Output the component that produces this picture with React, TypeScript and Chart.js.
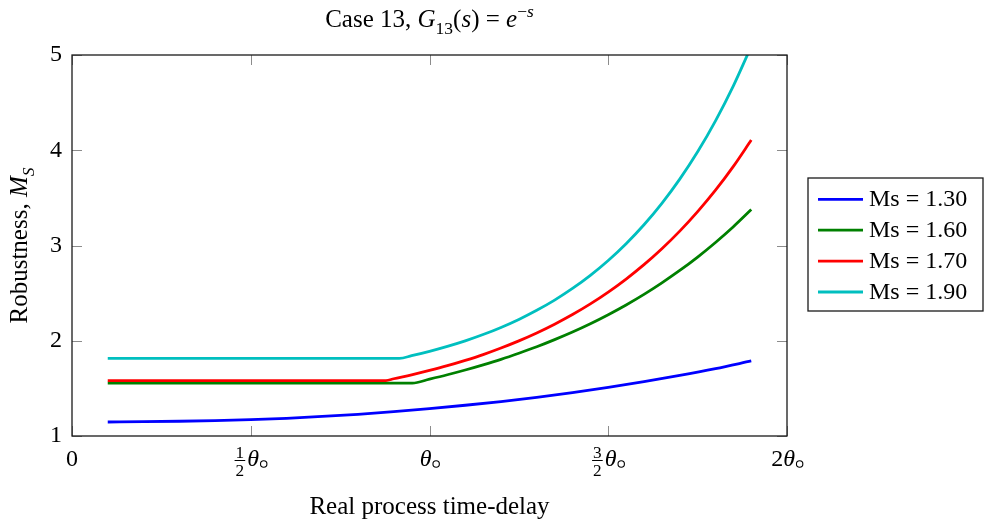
import React, { useEffect, useRef } from 'react';
import { Chart, registerables } from 'chart.js';

Chart.register(...registerables);

const FONT = '"Liberation Serif", "Times New Roman", Times, serif';

// ---- data ----
const seriesLabels = ['Ms = 1.30', 'Ms = 1.60', 'Ms = 1.70', 'Ms = 1.90'];
const seriesColors = ['#0000ff', '#008000', '#ff0000', '#00bfbf'];

const ms130X = [0.1, 0.2, 0.3, 0.4, 0.5, 0.6, 0.7, 0.8, 0.9, 1.0, 1.1, 1.2, 1.3, 1.4, 1.5, 1.6, 1.7, 1.8, 1.9];
const ms130Y = [1.147, 1.15, 1.155, 1.162, 1.172, 1.186, 1.205, 1.228, 1.256, 1.288, 1.323, 1.362, 1.406, 1.455, 1.51, 1.57, 1.636, 1.708, 1.788];

const ms160X = [0.1, 0.952, 1.0, 1.05, 1.1, 1.15, 1.2, 1.25, 1.3, 1.35, 1.4, 1.45, 1.5, 1.55, 1.6, 1.65, 1.7, 1.75, 1.8, 1.85, 1.9];
const ms160Y = [1.555, 1.555, 1.597, 1.643, 1.693, 1.747, 1.805, 1.869, 1.937, 2.012, 2.092, 2.179, 2.274, 2.376, 2.487, 2.608, 2.738, 2.879, 3.032, 3.197, 3.377];

const ms170X = [0.1, 0.878, 0.9, 0.95, 1.0, 1.05, 1.1, 1.15, 1.2, 1.25, 1.3, 1.35, 1.4, 1.45, 1.5, 1.55, 1.6, 1.65, 1.7, 1.75, 1.8, 1.85, 1.9];
const ms170Y = [1.582, 1.582, 1.601, 1.642, 1.688, 1.738, 1.794, 1.855, 1.924, 1.999, 2.082, 2.174, 2.275, 2.387, 2.511, 2.648, 2.799, 2.966, 3.151, 3.356, 3.581, 3.831, 4.107];

const ms190X = [0.1, 0.916, 0.95, 1.0, 1.05, 1.1, 1.15, 1.2, 1.25, 1.3, 1.35, 1.4, 1.45, 1.5, 1.55, 1.6, 1.65, 1.7, 1.75, 1.8, 1.85, 1.9];
const ms190Y = [1.815, 1.815, 1.843, 1.889, 1.941, 1.999, 2.065, 2.14, 2.224, 2.32, 2.427, 2.549, 2.687, 2.843, 3.019, 3.218, 3.443, 3.697, 3.984, 4.309, 4.676, 5.091];

const yTickValues = [1, 2, 3, 4, 5];
const xTickValues = [0, 0.5, 1, 1.5, 2];
const xTickLabels = ['0', '1/2θ', 'θ', '3/2θ', '2θ'];

const xAxisTitle = 'Real process time-delay';
type Run = { t: string; italic?: boolean; scale?: number; dy?: number };
const chartTitleRuns: Run[] = [
  { t: 'Case 13, ' },
  { t: 'G', italic: true },
  { t: '13', scale: 0.7, dy: 0.28 },
  { t: '(' },
  { t: 's', italic: true },
  { t: ') = ' },
  { t: 'e', italic: true },
  { t: '−', scale: 0.7, dy: -0.42 },
  { t: 's', italic: true, scale: 0.7, dy: -0.42 },
];
const yAxisTitleRuns: Run[] = [
  { t: 'Robustness, ' },
  { t: 'M', italic: true },
  { t: 'S', italic: true, scale: 0.7, dy: 0.28 },
];

const seriesX = [ms130X, ms160X, ms170X, ms190X];
const seriesY = [ms130Y, ms160Y, ms170Y, ms190Y];

function font(size: number, italic?: boolean) {
  return `${italic ? 'italic ' : ''}${size}px ${FONT}`;
}

function runsWidth(ctx: CanvasRenderingContext2D, runs: Run[], size: number) {
  let w = 0;
  for (const r of runs) {
    ctx.font = font(size * (r.scale || 1), r.italic);
    w += ctx.measureText(r.t).width;
  }
  return w;
}

function drawRuns(ctx: CanvasRenderingContext2D, runs: Run[], cx: number, baseY: number, size: number) {
  const w = runsWidth(ctx, runs, size);
  let x = cx - w / 2;
  ctx.textAlign = 'left';
  ctx.textBaseline = 'alphabetic';
  for (const r of runs) {
    ctx.font = font(size * (r.scale || 1), r.italic);
    ctx.fillText(r.t, x, baseY + (r.dy || 0) * size);
    x += ctx.measureText(r.t).width;
  }
}

function drawXTickLabel(ctx: CanvasRenderingContext2D, label: string, cx: number, baseY: number, size: number) {
  const m = label.match(/^(?:(\d+)\/(\d+))?(\d+)?(θ)?$/);
  if (!m) return;
  const num = m[1];
  const den = m[2];
  const coef = m[3];
  const theta = !!m[4];
  const small = size * 0.72;
  let fracW = 0;
  if (num && den) {
    ctx.font = font(small);
    fracW = Math.max(ctx.measureText(num).width, ctx.measureText(den).width) + 2;
  }
  ctx.font = font(size);
  const coefW = coef ? ctx.measureText(coef).width : 0;
  ctx.font = font(size, true);
  const thetaW = theta ? ctx.measureText('θ').width : 0;
  const ringR = 3.2;
  const ringW = theta ? 1.5 + ringR * 2 : 0;
  const total = fracW + (fracW ? 2 : 0) + coefW + thetaW + ringW;
  let x = cx - total / 2;
  ctx.fillStyle = '#000';
  ctx.strokeStyle = '#000';
  ctx.textBaseline = 'alphabetic';
  if (fracW) {
    ctx.font = font(small);
    ctx.textAlign = 'center';
    ctx.fillText(num, x + fracW / 2, baseY - 8);
    ctx.fillText(den, x + fracW / 2, baseY + 10);
    ctx.lineWidth = 1;
    ctx.beginPath();
    ctx.moveTo(x, baseY - 5.5);
    ctx.lineTo(x + fracW, baseY - 5.5);
    ctx.stroke();
    x += fracW + 2;
  }
  ctx.textAlign = 'left';
  if (coef) {
    ctx.font = font(size);
    ctx.fillText(coef, x, baseY);
    x += coefW;
  }
  if (theta) {
    ctx.font = font(size, true);
    ctx.fillText('θ', x, baseY);
    x += thetaW + 1.5;
    ctx.lineWidth = 1.1;
    ctx.beginPath();
    ctx.arc(x + ringR, baseY - 2, ringR, 0, Math.PI * 2);
    ctx.stroke();
  }
}

const decorPlugin = {
  id: 'decor',
  afterDraw(chart: any) {
    const ctx: CanvasRenderingContext2D = chart.ctx;
    const a = chart.chartArea;
    const xs = chart.scales.x;
    const ys = chart.scales.y;
    ctx.save();

    // inner tick marks
    ctx.strokeStyle = '#8c8c8c';
    ctx.lineWidth = 1;
    const tl = 10;
    ctx.beginPath();
    for (const v of xTickValues) {
      const px = Math.round(xs.getPixelForValue(v)) + 0.5;
      ctx.moveTo(px, a.bottom);
      ctx.lineTo(px, a.bottom - tl);
      ctx.moveTo(px, a.top);
      ctx.lineTo(px, a.top + tl);
    }
    for (const v of yTickValues) {
      const py = Math.round(ys.getPixelForValue(v)) + 0.5;
      ctx.moveTo(a.left, py);
      ctx.lineTo(a.left + tl, py);
      ctx.moveTo(a.right, py);
      ctx.lineTo(a.right - tl, py);
    }
    ctx.stroke();

    // frame
    ctx.strokeStyle = '#1a1a1a';
    ctx.lineWidth = 1.3;
    ctx.strokeRect(a.left, a.top, a.right - a.left, a.bottom - a.top);

    // x tick labels
    xTickValues.forEach((v, i) => {
      drawXTickLabel(ctx, xTickLabels[i], xs.getPixelForValue(v), a.bottom + 30, 24);
    });

    ctx.fillStyle = '#000';
    // title
    drawRuns(ctx, chartTitleRuns, (a.left + a.right) / 2, 27, 25);

    // x axis title
    ctx.font = font(25);
    ctx.textAlign = 'center';
    ctx.textBaseline = 'alphabetic';
    ctx.fillText(xAxisTitle, (a.left + a.right) / 2, 514);

    // y axis title
    ctx.save();
    ctx.translate(27, (a.top + a.bottom) / 2);
    ctx.rotate(-Math.PI / 2);
    drawRuns(ctx, yAxisTitleRuns, 0, 0, 25);
    ctx.restore();

    // legend
    const lw = 175;
    const lh = 133;
    const lx = a.right + 21;
    const ly = (a.top + a.bottom) / 2 - 1 - lh / 2;
    ctx.fillStyle = '#fff';
    ctx.fillRect(lx, ly, lw, lh);
    ctx.strokeStyle = '#1a1a1a';
    ctx.lineWidth = 1.3;
    ctx.strokeRect(lx, ly, lw, lh);
    seriesLabels.forEach((lab, i) => {
      const yy = ly + 21.3 + i * 30.9;
      ctx.strokeStyle = seriesColors[i];
      ctx.lineWidth = 2.8;
      ctx.beginPath();
      ctx.moveTo(lx + 10, yy);
      ctx.lineTo(lx + 55, yy);
      ctx.stroke();
      ctx.fillStyle = '#000';
      ctx.font = font(24);
      ctx.textAlign = 'left';
      ctx.textBaseline = 'alphabetic';
      ctx.fillText(lab, lx + 61, yy + 7);
    });

    ctx.restore();
  },
};

export default function App() {
  const ref = useRef<HTMLCanvasElement>(null);

  useEffect(() => {
    const canvas = ref.current;
    if (!canvas) return;
    const orders = [3, 2, 1, 0];
    const chart = new Chart(canvas, {
      type: 'line',
      data: {
        datasets: seriesLabels.map((label, i) => ({
          label,
          data: seriesX[i].map((x, j) => ({ x, y: seriesY[i][j] })),
          borderColor: seriesColors[i],
          backgroundColor: seriesColors[i],
          borderWidth: 2.8,
          pointRadius: 0,
          pointHoverRadius: 0,
          fill: false,
          cubicInterpolationMode: 'monotone',
          clip: 0,
          order: orders[i],
        })),
      },
      options: {
        responsive: false,
        animation: false,
        devicePixelRatio: 1,
        events: [],
        layout: { padding: { top: 55, right: 201, bottom: 0, left: 0 } },
        plugins: {
          legend: { display: false },
          title: { display: false },
          tooltip: { enabled: false },
        },
        scales: {
          x: {
            type: 'linear',
            min: 0,
            max: 2,
            ticks: { display: false, stepSize: 0.5 },
            grid: { display: false, drawTicks: false },
            border: { display: false },
            afterFit: (s: any) => {
              s.height = 85;
            },
          },
          y: {
            type: 'linear',
            min: 1,
            max: 5,
            ticks: {
              stepSize: 1,
              color: '#000',
              padding: 10,
              font: { family: FONT, size: 24 },
            },
            grid: { display: false, drawTicks: false },
            border: { display: false },
            afterFit: (s: any) => {
              s.width = 72;
            },
          },
        },
      } as any,
      plugins: [decorPlugin],
    });
    return () => chart.destroy();
  }, []);

  return (
    <div style={{ position: 'fixed', left: 0, top: 0, width: 988, height: 521, background: '#fff' }}>
      <canvas ref={ref} width={988} height={521} style={{ display: 'block', width: 988, height: 521 }} />
    </div>
  );
}
